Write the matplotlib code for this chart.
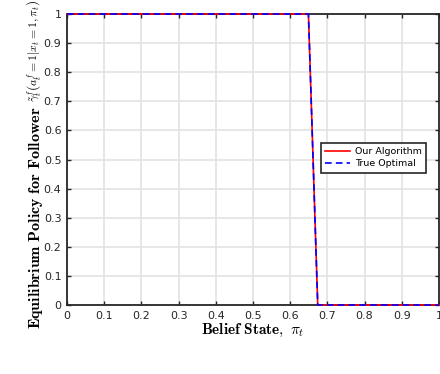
import numpy as np
import matplotlib
matplotlib.use('Agg')
import matplotlib.pyplot as plt

plt.rcParams['mathtext.fontset'] = 'cm'

# belief state vs. policy (step from 1 to 0 near 0.66)
belief = [0, 0.1, 0.2, 0.3, 0.4, 0.5, 0.6, 0.649, 0.674, 0.7, 0.8, 0.9, 1.0]
ours = [1, 1, 1, 1, 1, 1, 1, 1, 0, 0, 0, 0, 0]
optimal = [1, 1, 1, 1, 1, 1, 1, 1, 0, 0, 0, 0, 0]

xticks = np.arange(0, 1.01, 0.1)
yticks = np.arange(0, 1.01, 0.1)

fig = plt.figure(figsize=(4.4, 3.74), dpi=100)
ax = fig.add_axes([67 / 440, 69 / 374, 372 / 440, 291 / 374])

ax.plot(belief, ours, color='red', lw=1.2, label='Our Algorithm',
        clip_on=False, zorder=5)
ax.plot(belief, optimal, color='blue', lw=1.2, ls=(0, (4, 2.5)),
        label='True Optimal', clip_on=False, zorder=6)

ax.set_xlim(0, 1)
ax.set_ylim(0, 1)
ax.set_xticks(xticks)
ax.set_yticks(yticks)
ax.set_xticklabels([f'{t:g}' for t in xticks])
ax.set_yticklabels([f'{t:g}' for t in yticks])
ax.grid(True, color='#e3e3e3', lw=1.2)
ax.set_axisbelow(True)
ax.tick_params(direction='in', length=3, width=1, top=True, right=True,
               labelsize=8, colors='#262626', pad=4)
for s in ax.spines.values():
    s.set_color('#262626')
    s.set_linewidth(1.3)

ax.set_xlabel(r'$\mathbf{Belief\ State,}\ \pi_t$', fontsize=11, labelpad=1)

# y label: bold words plus a smaller math part stacked after them
ylab = ax.set_ylabel(r'$\mathbf{Equilibrium\ Policy\ for\ Follower}$', fontsize=11.5)
ax.yaxis.set_label_coords(-0.06, 0.30)
ax.annotate(r'$\tilde{\gamma}^f_t\left(a^f_t=1|x_t=1,\pi_t\right)$',
            xy=(0.4, 1), xycoords=ylab, xytext=(0, 3), textcoords='offset points',
            rotation=90, ha='center', va='bottom', fontsize=8.5,
            annotation_clip=False)

leg = ax.legend(loc='upper left', bbox_to_anchor=(0.683, 0.557), fontsize=6.8,
                fancybox=False, edgecolor='#262626', framealpha=1,
                handlelength=2.6, borderpad=0.45, labelspacing=0.35,
                handletextpad=0.5, borderaxespad=0)
leg.get_frame().set_linewidth(1.2)

fig.savefig('out.png', dpi=100)
